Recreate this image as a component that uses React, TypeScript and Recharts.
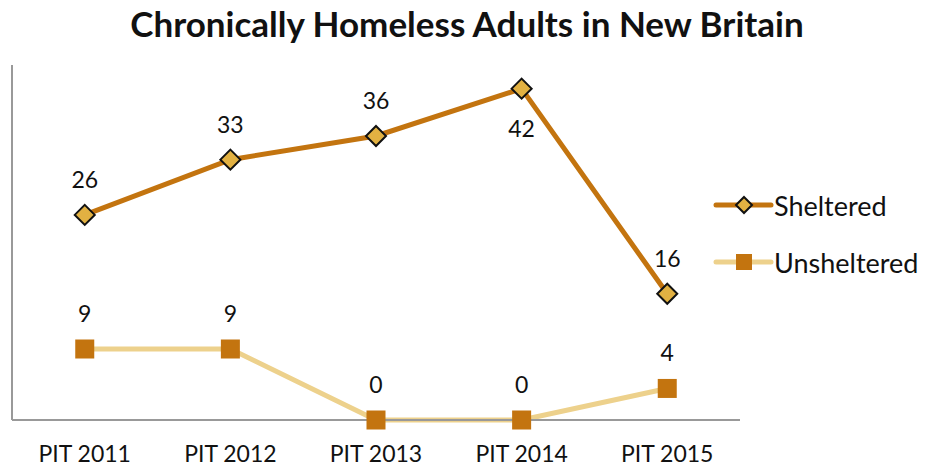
import { LineChart, Line, XAxis, YAxis, LabelList } from 'recharts'

const categories = ['PIT 2011', 'PIT 2012', 'PIT 2013', 'PIT 2014', 'PIT 2015']
const sheltered = [26, 33, 36, 42, 16]
const unsheltered = [9, 9, 0, 0, 4]

const data = categories.map((name, i) => ({
  name,
  sheltered: sheltered[i],
  unsheltered: unsheltered[i],
}))

const FONT = 'Lato, "Open Sans", sans-serif'
const DARK = '#C3740F'
const GOLD = '#E2B142'
const PALE = '#EDD18C'

const Diamond = (props: any) => {
  const { cx, cy } = props
  if (cx == null || cy == null) return null
  const r = 10
  return (
    <path
      d={`M${cx},${cy - r} L${cx + r},${cy} L${cx},${cy + r} L${cx - r},${cy} Z`}
      fill={GOLD}
      stroke="#111"
      strokeWidth={2}
    />
  )
}

const Square = (props: any) => {
  const { cx, cy } = props
  if (cx == null || cy == null) return null
  const s = 19
  return <rect x={cx - s / 2} y={cy - s / 2} width={s} height={s} fill={DARK} />
}

const makeLabel = (below: (i: number) => boolean) => (props: any) => {
  const { x, y, value, index } = props
  const dy = below(index) ? 39 : -36
  return (
    <text
      x={x}
      y={y + dy}
      textAnchor="middle"
      dominantBaseline="central"
      fontSize={23}
      fontFamily={FONT}
      fill="#111"
    >
      {value}
    </text>
  )
}

const legendItems = [
  { label: 'Sheltered', color: DARK, icon: 'diamond' },
  { label: 'Unsheltered', color: PALE, icon: 'square' },
]

export default function App() {
  return (
    <div style={{ position: 'absolute', left: 0, top: 0, width: 934, height: 468, background: '#fff' }}>
      <div
        style={{
          position: 'absolute',
          top: 2,
          left: 0,
          width: 934,
          textAlign: 'center',
          fontFamily: FONT,
          fontWeight: 700,
          fontSize: 35,
          color: '#111',
        }}
      >
        Chronically Homeless Adults in New Britain
      </div>
      <LineChart width={934} height={468} data={data} margin={{ top: 65, right: 194, left: 11, bottom: 0 }}>
        <XAxis
          dataKey="name"
          height={48}
          padding={{ left: 72.75, right: 72.75 }}
          axisLine={{ stroke: '#999', strokeWidth: 2 }}
          tickLine={false}
          tick={{ fontSize: 23, fontFamily: FONT, fill: '#111' }}
          tickMargin={20}
          interval={0}
        />
        <YAxis
          width={1}
          domain={[0, 45]}
          tick={false}
          tickLine={false}
          axisLine={{ stroke: '#999', strokeWidth: 2 }}
        />
        <Line
          dataKey="sheltered"
          stroke={DARK}
          strokeWidth={5}
          dot={<Diamond />}
          activeDot={false}
          isAnimationActive={false}
        >
          <LabelList dataKey="sheltered" content={makeLabel((i) => i === 3)} />
        </Line>
        <Line
          dataKey="unsheltered"
          stroke={PALE}
          strokeWidth={5}
          dot={<Square />}
          activeDot={false}
          isAnimationActive={false}
        >
          <LabelList dataKey="unsheltered" content={makeLabel(() => false)} />
        </Line>
      </LineChart>
      <div style={{ position: 'absolute', left: 713, top: 189, fontFamily: FONT, fontSize: 27, color: '#111' }}>
        {legendItems.map((item, i) => (
          <div key={item.label} style={{ display: 'flex', alignItems: 'center', height: 32, marginBottom: i === 0 ? 25 : 0 }}>
            <svg width={61} height={30}>
              <line x1={3} y1={15} x2={58} y2={15} stroke={item.color} strokeWidth={5} strokeLinecap="round" />
              {item.icon === 'diamond' ? (
                <path d="M31,7 L39,15 L31,23 L23,15 Z" fill={GOLD} stroke="#111" strokeWidth={2} />
              ) : (
                <rect x={23} y={7} width={16} height={16} fill={DARK} />
              )}
            </svg>
            <span>{item.label}</span>
          </div>
        ))}
      </div>
    </div>
  )
}
